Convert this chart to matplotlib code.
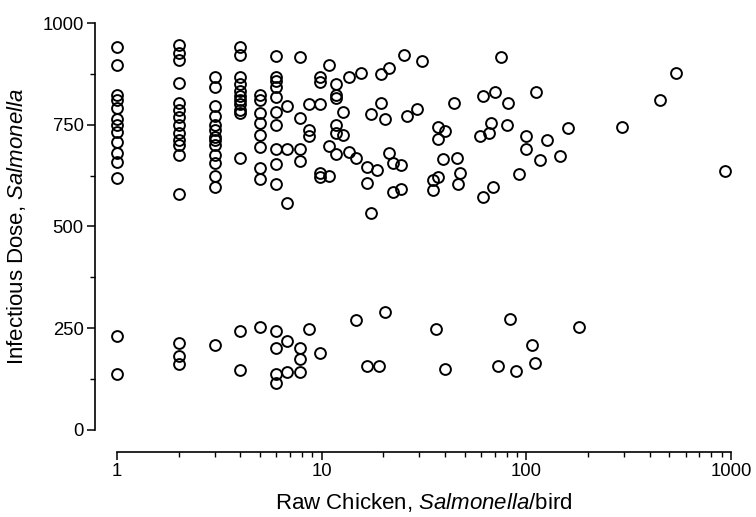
import matplotlib
matplotlib.use("Agg")
import matplotlib.pyplot as plt
from matplotlib.ticker import LogLocator, FixedLocator, NullFormatter, FuncFormatter

plt.rcParams['font.family'] = ['Liberation Sans', 'DejaVu Sans']
plt.rcParams['mathtext.fontset'] = 'custom'
plt.rcParams['mathtext.rm'] = 'Liberation Sans'
plt.rcParams['mathtext.it'] = 'Liberation Sans:italic'

# Salmonella per bird on raw chicken vs. infectious dose
chicken = [
    1, 1, 1, 1, 1, 1, 1, 1, 1, 1, 1, 1, 1, 1,
    2, 2, 2, 2, 2, 2, 2, 2, 2, 2, 2, 2, 2, 2, 2, 2,
    3, 3, 3, 3, 3, 3, 3, 3, 3, 3, 3, 3, 3, 3,
    4, 4, 4, 4, 4, 4, 4, 4, 4, 4, 4, 4, 4,
    5, 5, 5, 5, 5, 5, 5, 5, 5,
    6, 6, 6, 6, 6, 6, 6, 6, 6, 6, 6, 6, 6, 6,
    6.8, 6.8, 6.8, 6.8, 6.8,
    7.8, 7.8, 7.8, 7.8, 7.8, 7.8, 7.8,
    8.7, 8.7, 8.7, 8.7,
    9.8, 9.8, 9.8, 9.8, 9.8, 9.8,
    10.8, 10.8, 10.8,
    11.7, 11.7, 11.7, 11.7, 11.7, 11.7,
    12.7, 12.7,
    13.6, 13.6,
    14.7, 14.7,
    15.6,
    16.6, 16.6, 16.7,
    17.5, 17.5,
    18.6,
    19.4, 19.4, 19.1,
    20.4, 20.4,
    21.4, 21.4,
    22.4, 22.4,
    24.3, 24.3,
    25.2, 26.2, 29.1, 31.0,
    35.1, 35.1,
    36.9, 36.9, 36.9, 36.2,
    39.0,
    40.0, 40.0,
    44.4, 45.7, 47.4, 46.5,
    59.3, 61.2, 61.2, 65.9, 67.2, 68.5, 70.3, 72.4,
    75, 80, 81.6, 83, 89, 92,
    100, 100, 106, 110, 111, 116, 126, 146, 159, 181,
    294, 449, 536, 934,
]
dose = [
    942, 897, 823, 811, 790, 763, 749, 733, 708, 680, 659, 620, 232, 138,
    946, 927, 909, 852, 803, 786, 768, 749, 729, 713, 700, 676, 580, 214, 182, 161,
    868, 842, 796, 771, 749, 737, 721, 713, 700, 676, 655, 625, 596, 209,
    942, 922, 868, 850, 832, 820, 812, 800, 786, 778, 669, 244, 147,
    823, 811, 778, 754, 725, 696, 643, 616, 252,
    919, 868, 858, 842, 819, 782, 749, 690, 654, 604, 243, 202, 138, 116,
    796, 690, 558, 219, 143,
    916, 766, 690, 661, 201, 174, 143,
    801, 737, 722, 248,
    868, 856, 801, 632, 622, 190,
    898, 698, 624,
    850, 823, 815, 749, 730, 677,
    781, 726,
    868, 684,
    668, 270,
    878,
    647, 606, 157,
    776, 534,
    639,
    874, 803, 157,
    763, 289,
    889, 681,
    655, 584,
    651, 591,
    921, 771, 788, 907,
    614, 590,
    744, 714, 622, 248,
    665,
    735, 150,
    803, 669, 631, 604,
    723, 821, 573, 729, 755, 598, 831, 158,
    917, 749, 803, 272, 146, 629,
    723, 690, 209, 165, 831, 663, 713, 672, 743, 252,
    745, 811, 876, 636,
]

fig = plt.figure(figsize=(7.56, 5.17), dpi=100)
ax = fig.add_axes([0.1548, 0.1683, 0.8122, 0.7872])

ax.plot(chicken, dose, linestyle='none', marker='o', ms=7.8,
        mfc='none', mec='black', mew=1.4, clip_on=False)

ax.set_xscale('log')
ax.set_xlim(1, 1000)
ax.set_ylim(0, 1000)

for side in ['top', 'right']:
    ax.spines[side].set_visible(False)
for side in ['left', 'bottom']:
    ax.spines[side].set_position(('outward', 16))
    ax.spines[side].set_linewidth(1.2)

ax.xaxis.set_major_locator(LogLocator(base=10, numticks=10))
ax.xaxis.set_minor_locator(LogLocator(base=10, subs=range(2, 10), numticks=20))
ax.xaxis.set_major_formatter(FuncFormatter(lambda v, p: f"{v:g}"))
ax.xaxis.set_minor_formatter(NullFormatter())
ax.yaxis.set_major_locator(FixedLocator([0, 250, 500, 750, 1000]))
ax.yaxis.set_minor_locator(FixedLocator([125, 375, 625, 875]))

ax.tick_params(which='major', length=6, width=1.1, labelsize=13.3, pad=2)
ax.tick_params(which='minor', length=3.5, width=1.0)

ax.set_xlabel(r"Raw Chicken, $\it{Salmonella}$/bird", fontsize=16, labelpad=8)
ax.set_ylabel(r"Infectious Dose, $\it{Salmonella}$", fontsize=16, labelpad=10)

fig.savefig("out.png", dpi=100)
